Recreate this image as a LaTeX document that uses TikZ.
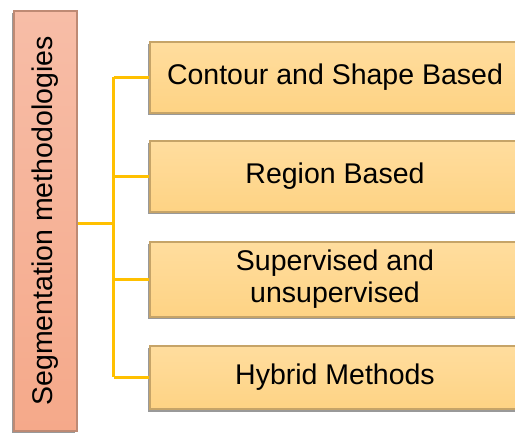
\documentclass[tikz,border=0pt]{standalone}
\usepackage{fontspec}
\setmainfont{Liberation Sans}
\usetikzlibrary{shadows}
\definecolor{boxtop}{HTML}{FFDD9E}
\definecolor{boxbot}{HTML}{FED384}
\definecolor{boxline}{HTML}{C6A468}
\definecolor{roottop}{HTML}{F7BDA7}
\definecolor{rootbot}{HTML}{F5A98A}
\definecolor{rootline}{HTML}{BE8A74}
\definecolor{link}{HTML}{FFC000}
\begin{document}
\begin{tikzpicture}[x=1pt,y=-1pt,
  every node/.style={font=\fontsize{28.5}{32}\selectfont},
  method/.style={rectangle, draw=boxline, line width=1.2pt,
    top color=boxtop, bottom color=boxbot,
    minimum width=370pt, align=center, inner sep=0pt,
    general shadow={fill=black!40, shadow xshift=-2.5pt, shadow yshift=-2.5pt}},
  root/.style={rectangle, draw=rootline, line width=1.2pt,
    top color=roottop, bottom color=rootbot,
    minimum width=63pt, minimum height=420pt, inner sep=0pt,
    general shadow={fill=black!40, shadow xshift=-2.5pt, shadow yshift=-2.5pt}},
  connector/.style={draw=link, line width=3pt}]
\useasboundingbox (0,0) rectangle (515,433);

% category root, its label written bottom to top
\node[root] (root) at (45.5,221) {};
\node[rotate=90, inner sep=0pt] (rootlabel) at (root.center) {Segmentation methodologies};

% the four families of methods
\node[method, minimum height=71pt] (contour) at (335,77.5) {Contour and Shape Based};
\node[method, minimum height=71pt] (region) at (335,176.5) {Region Based};
\node[method, minimum height=75pt] (superv) at (335,279.5) {Supervised and\\unsupervised};
\node[method, minimum height=63pt] (hybrid) at (335,377.5) {Hybrid Methods};

% tree connectors
\coordinate (joint) at (113.5,224);
\draw[connector] (root.east |- joint) -- (joint);
\draw[connector] (joint |- contour.west) -- (joint |- hybrid.west);
\draw[connector] (joint |- contour.west) -- (contour.west);
\draw[connector] (joint |- region.west) -- (region.west);
\draw[connector] (joint |- superv.west) -- (superv.west);
\draw[connector] (joint |- hybrid.west) -- (hybrid.west);
\end{tikzpicture}
\end{document}
